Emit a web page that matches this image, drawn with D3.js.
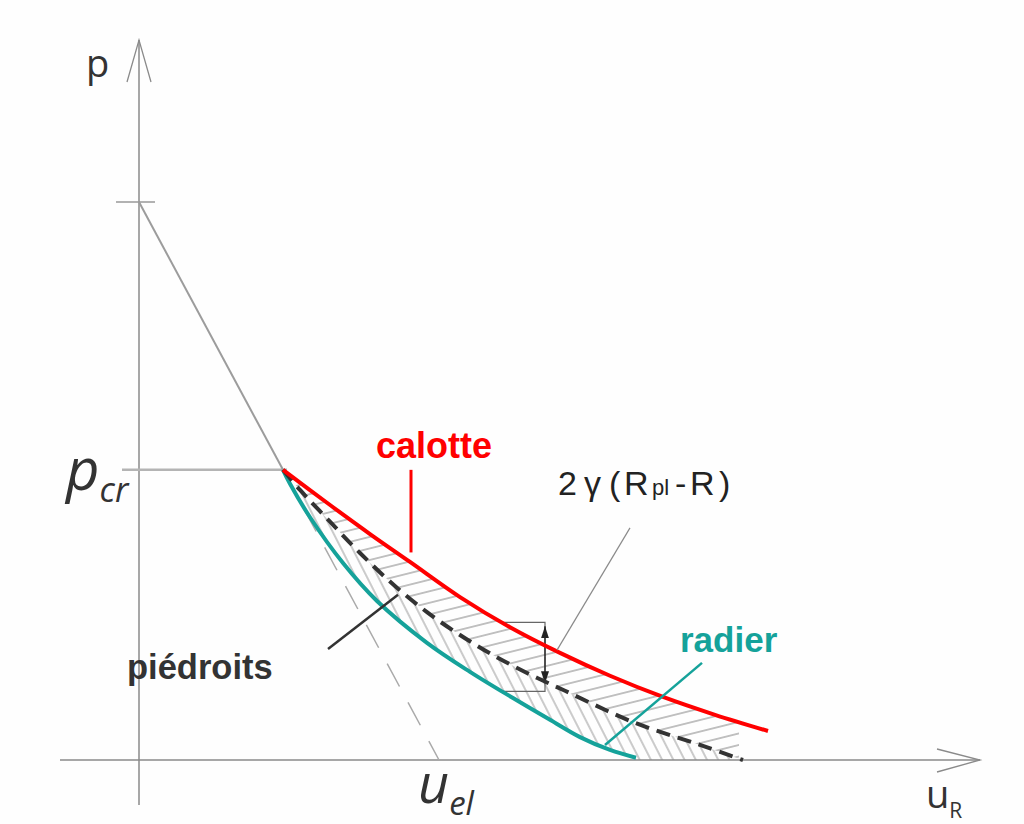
<!DOCTYPE html>
<html>
<head>
<meta charset="utf-8">
<script src="https://cdn.jsdelivr.net/npm/d3@7"></script>
<style>
  html, body { margin: 0; padding: 0; background: #fefefe; }
  svg { display: block; }
</style>
</head>
<body>
<svg id="chart" width="1024" height="824"></svg>
<script>
// Convergence–confinement diagram: support pressure p versus radial displacement u_R.

// Elastic branch
const p0 = 10;      // pressure at zero displacement
const pCr = 5.2;    // critical pressure
const uEl = 6;      // elastic displacement where the elastic line reaches p = 0

// Plastic branches (u, p)
const calotteU = [2.88, 3.76, 4.62, 5.42, 6.42, 7.42, 8.42, 9.42, 10.48, 11.52, 12.58];
const calotteP = [5.2, 4.61, 4.05, 3.55, 2.92, 2.38, 1.92, 1.51, 1.13, 0.81, 0.52];

const piedroitsU = [2.88, 3.22, 3.82, 4.42, 5.08, 5.76, 6.42, 7.08, 7.76, 8.52, 9.88, 11.22, 12.08];
const piedroitsP = [5.2, 4.84, 4.27, 3.71, 3.15, 2.65, 2.24, 1.88, 1.56, 1.24, 0.68, 0.27, 0.0];

const radierU = [2.88, 3.02, 3.42, 4.08, 4.76, 5.76, 6.62, 7.48, 8.22, 8.82, 9.42, 9.94];
const radierP = [5.2, 4.95, 4.35, 3.53, 2.85, 2.10, 1.58, 1.11, 0.72, 0.41, 0.18, 0.04];

// Displacement at which the 2γ(Rpl−R) gap is shown
const uGap = 7.26;
const uGapRight = 8.12;

const svg = d3.select("#chart");

const x = d3.scaleLinear().domain([0, uEl]).range([139, 439]);
const y = d3.scaleLinear().domain([0, p0]).range([760, 202]);

const zip = (us, ps) => us.map((u, i) => ({ u, p: ps[i] }));
const calotte = zip(calotteU, calotteP);
const piedroits = zip(piedroitsU, piedroitsP);
const radier = zip(radierU, radierP);

const uCr = uEl * (1 - pCr / p0);

function interp(pts, u) {
  for (let i = 1; i < pts.length; i++) {
    if (u <= pts[i].u) {
      const a = pts[i - 1], b = pts[i];
      return a.p + (b.p - a.p) * (u - a.u) / (b.u - a.u);
    }
  }
  return pts[pts.length - 1].p;
}

const line = d3.line().x(d => x(d.u)).y(d => y(d.p)).curve(d3.curveCatmullRom.alpha(0.5));

const defs = svg.append("defs");

// Hatch patterns
const hatchUp = defs.append("pattern")
  .attr("id", "hatchUpper").attr("patternUnits", "userSpaceOnUse")
  .attr("width", 20).attr("height", 11.2)
  .attr("patternTransform", "rotate(-14)");
hatchUp.append("line").attr("x1", 0).attr("x2", 20).attr("y1", 5.6).attr("y2", 5.6)
  .attr("stroke", "#9a9a9a").attr("stroke-width", 1.2);

const hatchLow = defs.append("pattern")
  .attr("id", "hatchLower").attr("patternUnits", "userSpaceOnUse")
  .attr("width", 20).attr("height", 10)
  .attr("patternTransform", "rotate(63)");
hatchLow.append("line").attr("x1", 0).attr("x2", 20).attr("y1", 5).attr("y2", 5)
  .attr("stroke", "#a0a0a0").attr("stroke-width", 1.1);

// Arrowheads for the gap bracket
defs.append("marker").attr("id", "arrowHead")
  .attr("viewBox", "0 0 12 8").attr("refX", 12).attr("refY", 4)
  .attr("markerWidth", 12).attr("markerHeight", 8).attr("markerUnits", "userSpaceOnUse")
  .attr("orient", "auto")
  .append("path").attr("d", "M0,0 L12,4 L0,8 Z").attr("fill", "#222");

// Upper hatched band stops a little before the end of the curves
defs.append("clipPath").attr("id", "upperClip")
  .append("rect").attr("x", 0).attr("y", 0).attr("width", x(12.0)).attr("height", 824);

// Hatched area between calotte and piédroits
const upperArea = line(calotte) + "L" + line([...piedroits].reverse()).slice(1) + "Z";
svg.append("path").attr("d", upperArea).attr("fill", "url(#hatchUpper)").attr("stroke", "none")
  .attr("clip-path", "url(#upperClip)");

// Hatched area between piédroits and radier, closed along the u axis
const lowerPts = line(piedroits) + "L" + x(radierU[radierU.length - 1]) + "," + y(0) +
  "L" + line([...radier].reverse()).slice(1) + "Z";
svg.append("path").attr("d", lowerPts).attr("fill", "url(#hatchLower)").attr("stroke", "none");

// Axes
const axisColor = "#8a8a8a";
svg.append("line").attr("x1", x(0)).attr("x2", x(0)).attr("y1", 805).attr("y2", 40)
  .attr("stroke", axisColor).attr("stroke-width", 1.5);
svg.append("path").attr("d", `M${x(0) - 12},82 L${x(0)},40 L${x(0) + 12},82`)
  .attr("fill", "none").attr("stroke", axisColor).attr("stroke-width", 1.3);
svg.append("line").attr("x1", 60).attr("x2", 980).attr("y1", y(0)).attr("y2", y(0))
  .attr("stroke", axisColor).attr("stroke-width", 1.5);
svg.append("path").attr("d", `M937,${y(0) - 11} L980,${y(0)} L937,${y(0) + 12}`)
  .attr("fill", "none").attr("stroke", axisColor).attr("stroke-width", 1.3);

// Tick at p0
svg.append("line").attr("x1", x(0) - 23).attr("x2", x(0) + 16).attr("y1", y(p0)).attr("y2", y(p0))
  .attr("stroke", "#999").attr("stroke-width", 1.5);

// p_cr level
svg.append("line").attr("x1", x(0) - 17).attr("x2", x(uCr) + 4).attr("y1", y(pCr)).attr("y2", y(pCr))
  .attr("stroke", "#b4b4b4").attr("stroke-width", 2.5);

// Elastic line, solid up to p_cr then dashed down to u_el
svg.append("line").attr("x1", x(0)).attr("y1", y(p0)).attr("x2", x(uCr)).attr("y2", y(pCr))
  .attr("stroke", "#9c9c9c").attr("stroke-width", 2);
svg.append("line").attr("x1", x(uCr)).attr("y1", y(pCr)).attr("x2", x(uEl)).attr("y2", y(0))
  .attr("stroke", "#aaaaaa").attr("stroke-width", 1.5).attr("stroke-dasharray", "26,18");

// Gap bracket 2γ(Rpl−R)
const pGapTop = interp(calotte, uGap);
const pGapBot = interp(radier, uGap);
svg.append("path")
  .attr("d", `M${x(uGap)},${y(pGapTop)} L${x(uGapRight)},${y(pGapTop)} L${x(uGapRight)},${y(pGapBot)} L${x(uGap)},${y(pGapBot)}`)
  .attr("fill", "none").attr("stroke", "#666").attr("stroke-width", 1.2);
const mid = (y(pGapTop) + y(pGapBot)) / 2;
svg.append("line").attr("x1", x(uGapRight)).attr("x2", x(uGapRight)).attr("y1", mid).attr("y2", y(pGapTop) + 4)
  .attr("stroke", "#222").attr("stroke-width", 1.3).attr("marker-end", "url(#arrowHead)");
svg.append("line").attr("x1", x(uGapRight)).attr("x2", x(uGapRight)).attr("y1", mid).attr("y2", y(pGapBot) - 8)
  .attr("stroke", "#222").attr("stroke-width", 1.3).attr("marker-end", "url(#arrowHead)");

// Curves
svg.append("path").attr("d", line(radier)).attr("fill", "none")
  .attr("stroke", "#15a29a").attr("stroke-width", 4);
svg.append("path").attr("d", line(piedroits)).attr("fill", "none")
  .attr("stroke", "#333").attr("stroke-width", 4).attr("stroke-dasharray", "14,8");
svg.append("path").attr("d", line(calotte)).attr("fill", "none")
  .attr("stroke", "#ff0000").attr("stroke-width", 4);

// Leader lines
svg.append("line").attr("x1", x(5.44)).attr("x2", x(5.44)).attr("y1", y(5.2)).attr("y2", y(3.72))
  .attr("stroke", "#ff0000").attr("stroke-width", 3);
svg.append("line").attr("x1", x(9.82)).attr("y1", y(4.16)).attr("x2", x(8.36)).attr("y2", y(1.97))
  .attr("stroke", "#8a8a8a").attr("stroke-width", 1.2);
svg.append("line").attr("x1", x(11.26)).attr("y1", y(1.74)).attr("x2", x(9.32)).attr("y2", y(0.27))
  .attr("stroke", "#15a29a").attr("stroke-width", 2.5);
svg.append("line").attr("x1", x(5.18)).attr("y1", y(2.96)).attr("x2", x(3.78)).attr("y2", y(1.99))
  .attr("stroke", "#333").attr("stroke-width", 2.5);

// Labels
const sans = "'Liberation Sans', Arial, sans-serif";
const open = "'Open Sans', sans-serif";

svg.append("text").attr("x", 86).attr("y", 77).attr("font-family", open).attr("font-size", 38)
  .attr("fill", "#333").text("p");

const uR = svg.append("text").attr("x", 926).attr("y", 808).attr("font-family", open).attr("fill", "#333");
uR.append("tspan").attr("font-size", 38).text("u");
uR.append("tspan").attr("font-size", 21).attr("dy", 10).text("R");

const pcr = svg.append("text").attr("x", 66).attr("y", 490).attr("font-family", open)
  .attr("font-style", "italic").attr("fill", "#333");
pcr.append("tspan").attr("font-size", 58).text("p");
pcr.append("tspan").attr("font-size", 34).attr("dy", 12).text("cr");

const uel = svg.append("text").attr("x", 418).attr("y", 803).attr("font-family", open)
  .attr("font-style", "italic").attr("fill", "#333");
uel.append("tspan").attr("font-size", 54).text("u");
uel.append("tspan").attr("font-size", 33).attr("dy", 12).text("el");

svg.append("text").attr("x", 376).attr("y", 458).attr("font-family", sans).attr("font-weight", "bold")
  .attr("font-size", 36).attr("fill", "#ff0000").text("calotte");

svg.append("text").attr("x", 680).attr("y", 652).attr("font-family", sans).attr("font-weight", "bold")
  .attr("font-size", 35).attr("fill", "#15a29a").text("radier");

svg.append("text").attr("x", 127).attr("y", 679).attr("font-family", sans).attr("font-weight", "bold")
  .attr("font-size", 34.5).attr("fill", "#333").text("piédroits");

// 2γ(Rpl-R), glyphs spaced out as in the original lettering
const gap = svg.append("text").attr("y", 495).attr("font-family", sans).attr("font-size", 34).attr("fill", "#222");
gap.append("tspan").attr("x", 558).text("2");
gap.append("tspan").attr("x", 584).text("γ");
gap.append("tspan").attr("x", 609).text("(");
gap.append("tspan").attr("x", 624).text("R");
gap.append("tspan").attr("x", 652).attr("font-size", 22).text("pl");
gap.append("tspan").attr("x", 675).text("-");
gap.append("tspan").attr("x", 690).text("R");
gap.append("tspan").attr("x", 719).text(")");
</script>
</body>
</html>
